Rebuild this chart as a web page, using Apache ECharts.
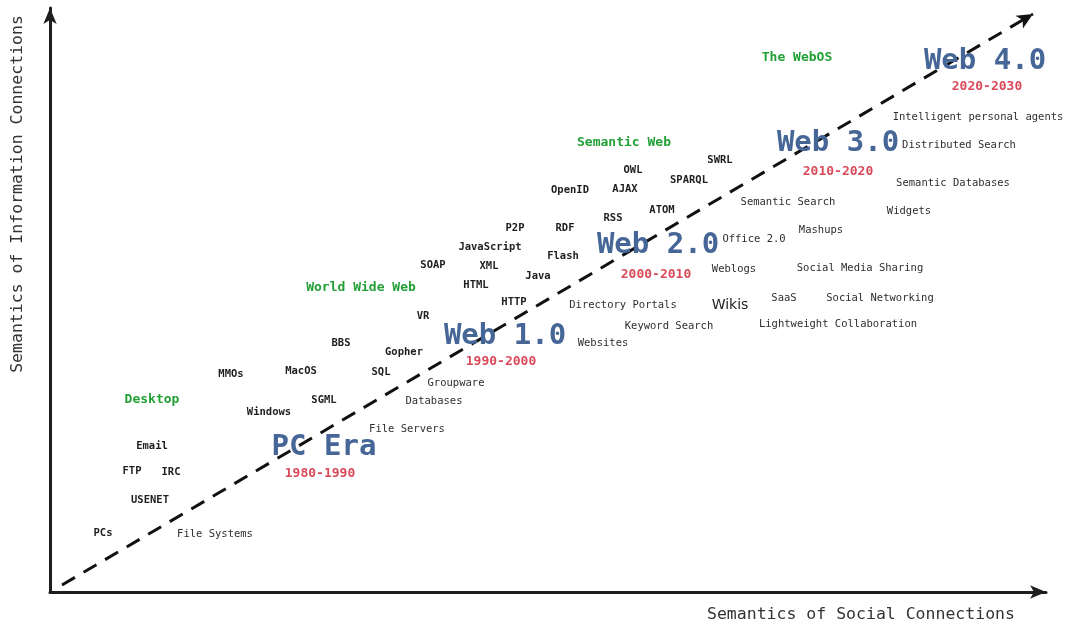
<!DOCTYPE html>
<html>
<head>
<meta charset="UTF-8">
<script src="https://cdn.jsdelivr.net/npm/echarts@6/dist/echarts.min.js"></script>
<style>
  html, body { margin: 0; padding: 0; background: #fff; }
  #main { width: 1067px; height: 625px; }
</style>
</head>
<body>
<div id="main"></div>
<script>
    // positions are in chart units: x along social axis, y along information axis
    var techNames = ['PCs', 'USENET', 'FTP', 'IRC', 'Email', 'Windows', 'SGML', 'MMOs', 'MacOS', 'SQL',
        'Gopher', 'BBS', 'VR', 'HTTP', 'HTML', 'Java', 'XML', 'SOAP', 'JavaScript', 'P2P',
        'RDF', 'Flash', 'RSS', 'OpenID', 'AJAX', 'OWL', 'ATOM', 'SPARQL', 'SWRL'];
    var techX = [53, 100, 82, 121, 102, 219, 274, 181, 251, 331,
        354, 291, 373, 464, 426, 488, 439, 383, 440, 465,
        515, 513, 563, 520, 575, 583, 612, 639, 670];
    var techY = [59, 92, 121, 120, 146, 180, 192, 218, 221, 220,
        240, 249, 276, 290, 307, 316, 326, 327, 345, 364,
        364, 336, 374, 402, 403, 422, 382, 412, 432];

    var appNames = ['File Systems', 'File Servers', 'Databases', 'Groupware', 'Websites', 'Keyword Search',
        'Directory Portals', 'Weblogs', 'Office 2.0', 'Lightweight Collaboration', 'SaaS',
        'Social Networking', 'Social Media Sharing', 'Mashups', 'Semantic Search', 'Widgets',
        'Semantic Databases', 'Distributed Search', 'Intelligent personal agents'];
    var appX = [165, 357, 384, 406, 553, 619, 573, 684, 704, 788, 734, 830, 810, 771, 738, 859, 903, 909, 928];
    var appY = [58, 163, 191, 209, 249, 266, 287, 323, 353, 268, 294, 294, 324, 362, 390, 381, 409, 447, 475];

    var wikiNames = ['Wikis'];
    var wikiX = [680];
    var wikiY = [287];

    var stageNames = ['Desktop', 'World Wide Web', 'Semantic Web', 'The WebOS'];
    var stageX = [102, 311, 574, 747];
    var stageY = [192, 304, 449, 534];

    var eraNames = ['PC Era', 'Web 1.0', 'Web 2.0', 'Web 3.0', 'Web 4.0'];
    var eraX = [274, 455, 608, 788, 935];
    var eraY = [145, 256, 347, 449, 531];

    var yearNames = ['1980-1990', '1990-2000', '2000-2010', '2010-2020', '2020-2030'];
    var yearX = [270, 451, 606, 788, 937];
    var yearY = [118, 230, 317, 420, 505];

    var trendStart = [12, 7];
    var trendEnd = [983, 578];

    var mono = '"DejaVu Sans Mono", "Liberation Mono", monospace';

    function pts(names, xs, ys) {
        var out = [];
        for (var i = 0; i < names.length; i++) {
            out.push({ name: names[i], value: [xs[i], ys[i]] });
        }
        return out;
    }

    function textSeries(name, data, color, size, weight, family) {
        return {
            name: name,
            type: 'scatter',
            data: data,
            symbolSize: 1,
            itemStyle: { color: 'rgba(0,0,0,0)', opacity: 1 },
            z: 5,
            label: {
                show: true,
                position: 'inside',
                formatter: '{b}',
                color: color,
                opacity: 1,
                fontSize: size,
                fontWeight: weight,
                fontFamily: family || mono,
                align: 'center',
                verticalAlign: 'middle'
            }
        };
    }

    var chart = echarts.init(document.getElementById('main'));
    var option = {
        animation: false,
        backgroundColor: '#fff',
        grid: { left: 50, right: 21, top: 8, bottom: 33 },
        xAxis: {
            type: 'value', min: 0, max: 996,
            axisLine: { show: true, symbol: ['none', 'arrow'], symbolSize: [10, 16],
                lineStyle: { color: '#1e1e1e', width: 3 } },
            axisTick: { show: false }, axisLabel: { show: false }, splitLine: { show: false }
        },
        yAxis: {
            type: 'value', min: 0, max: 584,
            axisLine: { show: true, symbol: ['none', 'arrow'], symbolSize: [10, 16],
                lineStyle: { color: '#1e1e1e', width: 3 } },
            axisTick: { show: false }, axisLabel: { show: false }, splitLine: { show: false }
        },
        graphic: [
            { type: 'text', left: 707, top: 606,
              style: { text: 'Semantics of Social Connections', fill: '#333', fontSize: 16.5, fontFamily: mono } },
            { type: 'text', x: 18, y: 194, rotation: Math.PI / 2,
              style: { text: 'Semantics of Information Connections', fill: '#333', fontSize: 16.5, fontFamily: mono,
                  align: 'center', verticalAlign: 'middle' } }
        ],
        series: [
            {
                type: 'line',
                data: [],
                markLine: {
                    silent: true,
                    symbol: ['none', 'arrow'],
                    symbolSize: [11, 16],
                    label: { show: false },
                    lineStyle: { color: '#111', width: 3, type: [15, 10] },
                    data: [[{ coord: trendStart }, { coord: trendEnd }]]
                }
            },
            textSeries('tech', pts(techNames, techX, techY), '#1e1e1e', 10.5, 'bold'),
            textSeries('apps', pts(appNames, appX, appY), '#2e2e2e', 10.5, 'normal'),
            textSeries('wikis', pts(wikiNames, wikiX, wikiY), '#1e1e1e', 14, 'normal', '"DejaVu Sans", sans-serif'),
            textSeries('stages', pts(stageNames, stageX, stageY), '#22a035', 13, 'bold'),
            textSeries('eras', pts(eraNames, eraX, eraY), '#456696', 29, 'bold'),
            textSeries('years', pts(yearNames, yearX, yearY), '#d94a5a', 13, 'bold')
        ]
    };
    chart.setOption(option);
</script>
</body>
</html>
